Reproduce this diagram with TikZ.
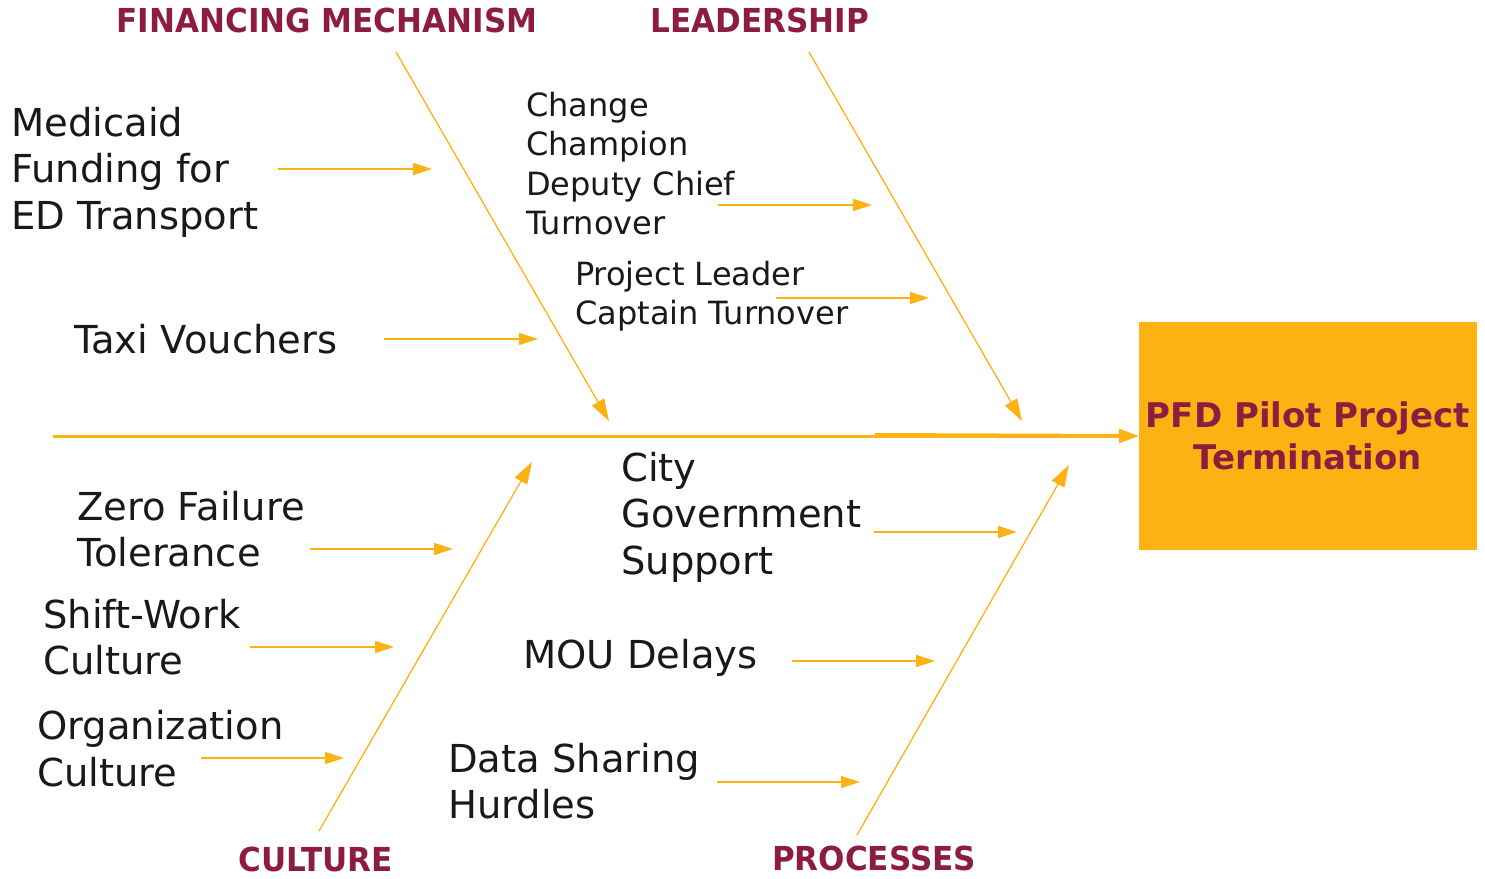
\documentclass[tikz,border=0pt]{standalone}
\usepackage{fontspec}
\setmainfont{DejaVu Sans}
\newfontfamily\catfont[FakeStretch=0.94]{DejaVu Sans}
\usetikzlibrary{arrows.meta}
\definecolor{gold}{RGB}{253,178,20}
\definecolor{maroon}{RGB}{140,29,64}
\begin{document}
\begin{tikzpicture}[x=1pt,y=-1pt,
  bone/.style={draw=gold,line width=1.3pt,-{Triangle[length=22pt,width=14pt]}},
  sub/.style={draw=gold,line width=1.3pt,-{Triangle[length=19pt,width=12pt]}},
  big/.style={anchor=west,align=left,inner sep=0pt,font=\fontsize{38.5}{46.5}\selectfont,text=black!90},
  mid/.style={anchor=west,align=left,inner sep=0pt,font=\fontsize{32}{39.5}\selectfont,text=black!90},
  cat/.style={inner sep=0pt,font=\catfont\bfseries\fontsize{33}{38}\selectfont,text=maroon}]
\useasboundingbox (0,0) rectangle (1485,878);
% effect box
\node[fill=gold,minimum width=338pt,minimum height=228pt,inner sep=0pt,align=center,
  text=maroon,font=\bfseries\fontsize{34}{42}\selectfont] (eff) at (1308,436) {PFD Pilot Project\\Termination};
% spine
\coordinate (sp0) at (53,436);
\coordinate (sp1) at (875,435);
\draw[draw=gold,line width=3pt,-{Triangle[length=20pt,width=14pt]}] (sp0) -- (eff.west);
\draw[draw=gold,line width=4pt] (sp1) -- ([xshift=-15pt]eff.west);
% category labels
\node[cat] (fin) at (327,20) {FINANCING MECHANISM};
\node[cat] (lead) at (760,20) {LEADERSHIP};
\node[cat] (cul) at (316,859) {CULTURE};
\node[cat] (proc) at (874,858) {PROCESSES};
% bones
\coordinate (f0) at (396,52); \coordinate (f1) at (609,421);
\coordinate (l0) at (809,52); \coordinate (l1) at (1022,421);
\coordinate (c0) at (319,831); \coordinate (c1) at (532,462);
\coordinate (p0) at (857,835); \coordinate (p1) at (1069,465);
\draw[bone] (f0) -- (f1);
\draw[bone] (l0) -- (l1);
\draw[bone] (c0) -- (c1);
\draw[bone] (p0) -- (p1);
% causes
\node[big] (med) at (11,172) {Medicaid\\Funding for\\ED Transport};
\node[big] (taxi) at (74,339) {Taxi Vouchers};
\node[mid] (chg) at (526,163.5) {Change\\Champion\\Deputy Chief\\Turnover};
\node[mid] (proj) at (575,296) {Project Leader\\Captain Turnover};
\node[big] (zero) at (77,529) {Zero Failure\\Tolerance};
\node[big] (shift) at (43,637) {Shift-Work\\Culture};
\node[big] (org) at (37,748.5) {Organization\\Culture};
\node[big] (city) at (621,517) {City\\Government\\Support};
\node[big] (mou) at (523,658) {MOU Delays};
\node[big] (data) at (448,781) {Data Sharing\\Hurdles};
% cause arrows
\coordinate (a1) at (278,169); \coordinate (b1) at (432,169);
\coordinate (a2) at (718,205); \coordinate (b2) at (872,205);
\coordinate (a3) at (776,298); \coordinate (b3) at (929,298);
\coordinate (a4) at (384,339); \coordinate (b4) at (538,339);
\coordinate (a5) at (310,549); \coordinate (b5) at (453,549);
\coordinate (a6) at (874,532); \coordinate (b6) at (1017,532);
\coordinate (a7) at (250,647); \coordinate (b7) at (394,647);
\coordinate (a8) at (792,661); \coordinate (b8) at (935,661);
\coordinate (a9) at (201,758); \coordinate (b9) at (344,758);
\coordinate (a10) at (717,782); \coordinate (b10) at (860,782);
\foreach \i in {1,...,10} {\draw[sub] (a\i) -- (b\i);}
\end{tikzpicture}
\end{document}
